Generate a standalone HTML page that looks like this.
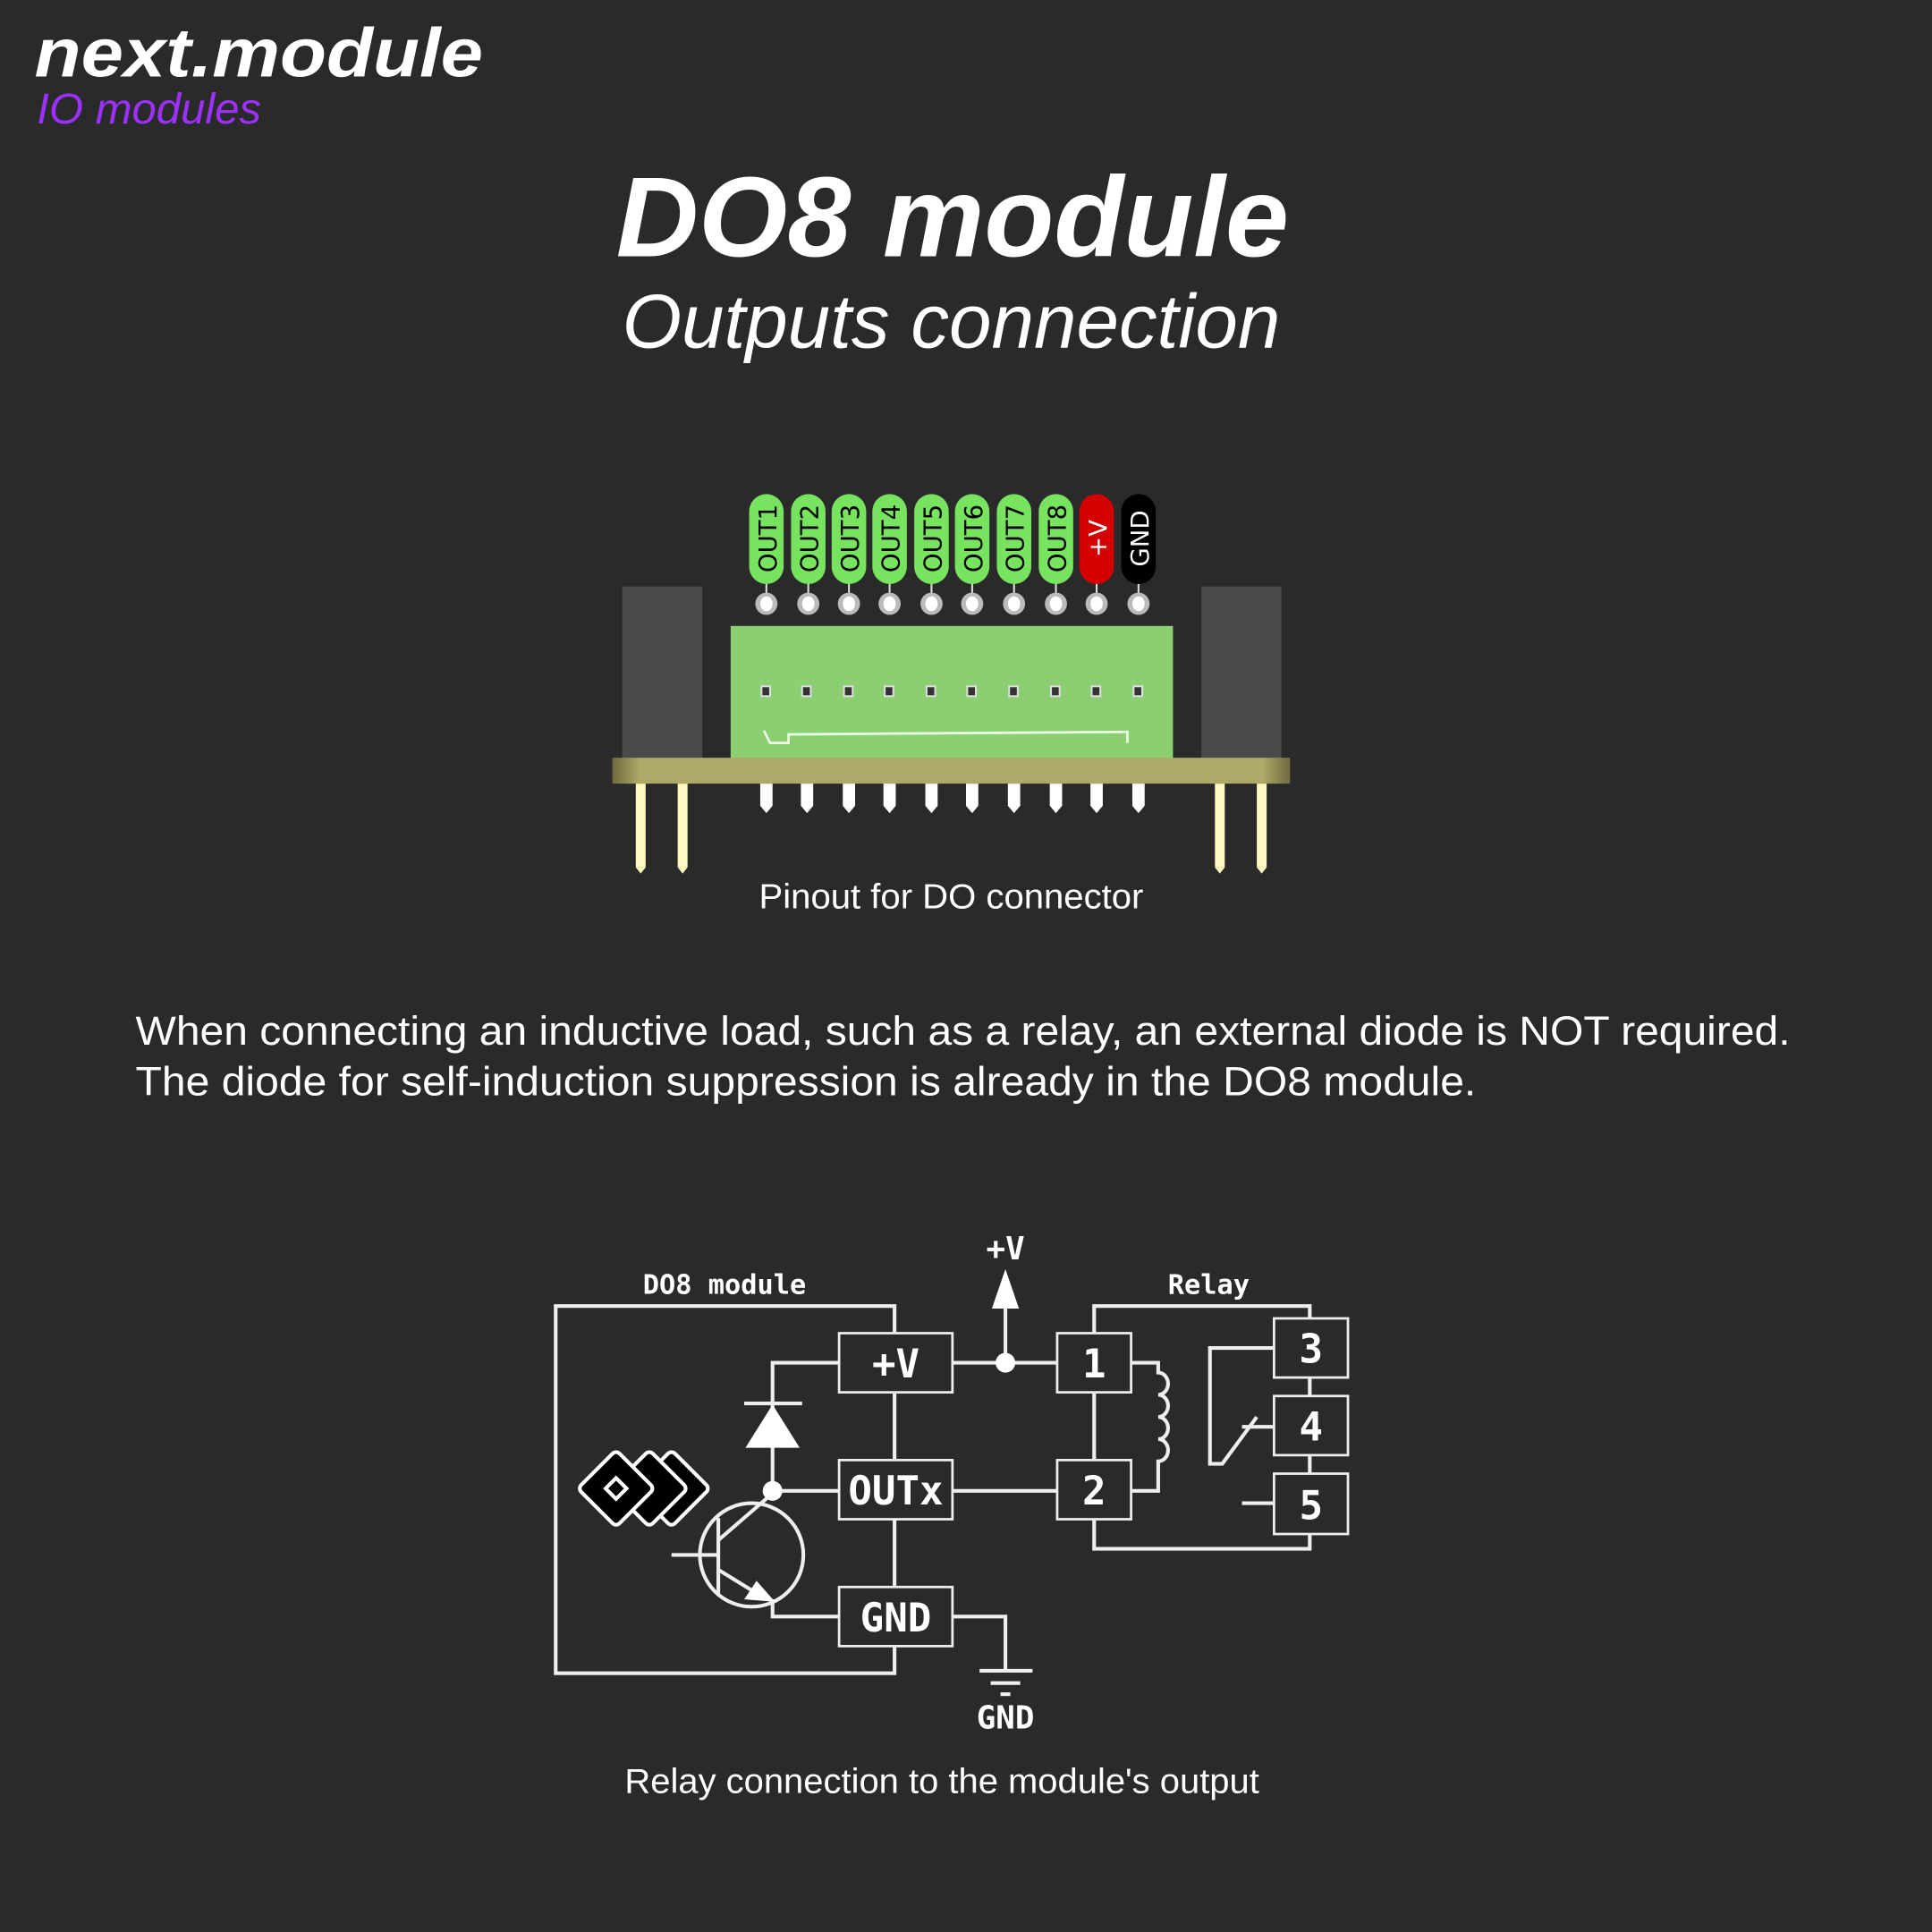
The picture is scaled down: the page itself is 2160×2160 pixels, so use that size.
<!DOCTYPE html>
<html><head><style>html,body{margin:0;padding:0;background:#2a2a2a;}svg{display:block}</style></head>
<body>
<svg width="2160" height="2160" viewBox="0 0 1568 1568" xmlns="http://www.w3.org/2000/svg">
<defs>
<linearGradient id="pcb" x1="0" x2="1" y1="0" y2="0">
<stop offset="0" stop-color="#6e6a3e"/><stop offset="0.04" stop-color="#aea968"/><stop offset="0.96" stop-color="#aea968"/><stop offset="1" stop-color="#6e6a3e"/>
</linearGradient>
</defs>
<rect width="1568" height="1568" fill="#2a2a2a"/>
<g font-family="Liberation Sans, sans-serif">
<text x="28" y="62" font-size="56" font-weight="bold" font-style="italic" fill="#fff" textLength="364" lengthAdjust="spacingAndGlyphs">next.module</text>
<text x="30" y="100" font-size="35" font-style="italic" fill="#9b30ff" textLength="182" lengthAdjust="spacingAndGlyphs">IO modules</text>
<text x="500" y="208" font-size="92" font-weight="bold" font-style="italic" fill="#fff" textLength="546" lengthAdjust="spacingAndGlyphs">DO8 module</text>
<text x="772" y="282" font-size="62" font-style="italic" fill="#fff" text-anchor="middle">Outputs connection</text>
</g>
<rect x="505" y="476" width="65" height="140" fill="#4a4a4a"/>
<rect x="975" y="476" width="65" height="140" fill="#4a4a4a"/>
<rect x="593" y="508" width="359" height="108" fill="#8ccf72"/>
<path d="M620 593 L625 603 L640 603 L640 596 L915 594 L915 603" stroke="#e8ffe0" stroke-width="2" fill="none"/>
<g fill="#333" stroke="#ddd" stroke-width="1.5">
<rect x="618" y="557" width="7" height="8"/><rect x="651" y="557" width="7" height="8"/><rect x="685" y="557" width="7" height="8"/><rect x="718" y="557" width="7" height="8"/><rect x="752" y="557" width="7" height="8"/><rect x="785" y="557" width="7" height="8"/><rect x="819" y="557" width="7" height="8"/><rect x="853" y="557" width="7" height="8"/><rect x="886" y="557" width="7" height="8"/><rect x="920" y="557" width="7" height="8"/>
</g>
<rect x="497" y="615" width="550" height="21" fill="url(#pcb)"/>
<g fill="#fff8c0">
<rect x="516" y="636" width="8" height="68"/><path d="M516 704 L520 709 L524 704Z"/>
<rect x="550" y="636" width="8" height="68"/><path d="M550 704 L554 709 L558 704Z"/>
<rect x="986" y="636" width="8" height="68"/><path d="M986 704 L990 709 L994 704Z"/>
<rect x="1020" y="636" width="8" height="68"/><path d="M1020 704 L1024 709 L1028 704Z"/>
</g>
<g fill="#fff">
<path d="M617 636h10v18l-5 6l-5-6z"/><path d="M650 636h10v18l-5 6l-5-6z"/><path d="M684 636h10v18l-5 6l-5-6z"/><path d="M717 636h10v18l-5 6l-5-6z"/><path d="M751 636h10v18l-5 6l-5-6z"/><path d="M784 636h10v18l-5 6l-5-6z"/><path d="M818 636h10v18l-5 6l-5-6z"/><path d="M852 636h10v18l-5 6l-5-6z"/><path d="M885 636h10v18l-5 6l-5-6z"/><path d="M919 636h10v18l-5 6l-5-6z"/>
</g>
<g font-family="DejaVu Sans, sans-serif" font-size="20">
<g stroke="#ddd" stroke-width="1.5">
<line x1="622" y1="473" x2="622" y2="490"/><line x1="656" y1="473" x2="656" y2="490"/><line x1="689" y1="473" x2="689" y2="490"/><line x1="722" y1="473" x2="722" y2="490"/><line x1="756" y1="473" x2="756" y2="490"/><line x1="789" y1="473" x2="789" y2="490"/><line x1="823" y1="473" x2="823" y2="490"/><line x1="857" y1="473" x2="857" y2="490"/><line x1="890" y1="473" x2="890" y2="490"/><line x1="924" y1="473" x2="924" y2="490"/>
</g>
<g fill="#bbb"><circle cx="622" cy="490" r="9"/><circle cx="656" cy="490" r="9"/><circle cx="689" cy="490" r="9"/><circle cx="722" cy="490" r="9"/><circle cx="756" cy="490" r="9"/><circle cx="789" cy="490" r="9"/><circle cx="823" cy="490" r="9"/><circle cx="857" cy="490" r="9"/><circle cx="890" cy="490" r="9"/><circle cx="924" cy="490" r="9"/></g>
<g fill="#fff"><ellipse cx="622" cy="490" rx="5" ry="6"/><ellipse cx="656" cy="490" rx="5" ry="6"/><ellipse cx="689" cy="490" rx="5" ry="6"/><ellipse cx="722" cy="490" rx="5" ry="6"/><ellipse cx="756" cy="490" rx="5" ry="6"/><ellipse cx="789" cy="490" rx="5" ry="6"/><ellipse cx="823" cy="490" rx="5" ry="6"/><ellipse cx="857" cy="490" rx="5" ry="6"/><ellipse cx="890" cy="490" rx="5" ry="6"/><ellipse cx="924" cy="490" rx="5" ry="6"/></g>
<g fill="#77e35f">
<rect x="608" y="401" width="28" height="73" rx="14"/><rect x="642" y="401" width="28" height="73" rx="14"/><rect x="675" y="401" width="28" height="73" rx="14"/><rect x="708" y="401" width="28" height="73" rx="14"/><rect x="742" y="401" width="28" height="73" rx="14"/><rect x="775" y="401" width="28" height="73" rx="14"/><rect x="809" y="401" width="28" height="73" rx="14"/><rect x="843" y="401" width="28" height="73" rx="14"/>
</g>
<rect x="876" y="401" width="28" height="73" rx="14" fill="#d40000"/>
<rect x="910" y="401" width="28" height="73" rx="14" fill="#000"/>
<g fill="#000">
<text transform="translate(630,437) rotate(-90)" text-anchor="middle">OUT1</text>
<text transform="translate(664,437) rotate(-90)" text-anchor="middle">OUT2</text>
<text transform="translate(697,437) rotate(-90)" text-anchor="middle">OUT3</text>
<text transform="translate(730,437) rotate(-90)" text-anchor="middle">OUT4</text>
<text transform="translate(764,437) rotate(-90)" text-anchor="middle">OUT5</text>
<text transform="translate(797,437) rotate(-90)" text-anchor="middle">OUT6</text>
<text transform="translate(831,437) rotate(-90)" text-anchor="middle">OUT7</text>
<text transform="translate(865,437) rotate(-90)" text-anchor="middle">OUT8</text>
</g>
<text transform="translate(898,437) rotate(-90)" text-anchor="middle" fill="#fff">+V</text>
<text transform="translate(932,437) rotate(-90)" text-anchor="middle" fill="#fff">GND</text>
</g>
<g font-family="Liberation Sans, sans-serif" fill="#fff">
<text x="616" y="737" font-size="28" textLength="312" lengthAdjust="spacingAndGlyphs">Pinout for DO connector</text>
<text x="110" y="848" font-size="33" textLength="1343" lengthAdjust="spacingAndGlyphs">When connecting an inductive load, such as a relay, an external diode is NOT required.</text>
<text x="110" y="889" font-size="33" textLength="1088" lengthAdjust="spacingAndGlyphs">The diode for self-induction suppression is already in the DO8 module.</text>
<text x="507" y="1455" font-size="28" textLength="515" lengthAdjust="spacingAndGlyphs">Relay connection to the module's output</text>
</g>
<g stroke="#eee" stroke-width="3" fill="none">
<path d="M726 1082 V1060 H451 V1358 H726 V1336"/>
<line x1="726" y1="1130" x2="726" y2="1185"/><line x1="726" y1="1233" x2="726" y2="1288"/>
<line x1="773" y1="1106" x2="858" y2="1106"/>
<line x1="816" y1="1106" x2="816" y2="1050"/>
<line x1="773" y1="1210" x2="858" y2="1210"/>
<path d="M773 1312 H816 V1356"/>
<line x1="795" y1="1356" x2="838" y2="1356"/><line x1="804" y1="1366" x2="828" y2="1366"/><line x1="812" y1="1375" x2="820" y2="1375"/>
<path d="M681 1106 H627 V1210 H681"/>
<line x1="604" y1="1139" x2="651" y2="1139"/>
<circle cx="610" cy="1262" r="42"/>
<line x1="545" y1="1262" x2="583" y2="1262"/>
<line x1="583" y1="1232" x2="583" y2="1295"/>
<line x1="583" y1="1250" x2="627" y2="1212"/>
<path d="M583 1274 L622 1298 M627 1298 V1312 H681"/>
<path d="M888 1082 V1060 H1063 V1070 M888 1130 V1185 M888 1233 V1257 H1063 V1245 M1063 1118 V1133 M1063 1181 V1196"/>
<path d="M918 1106 H940 V1114 a8 9 0 0 1 0 18 a8 9 0 0 1 0 18 a8 9 0 0 1 0 18 a8 9 0 0 1 0 18 V1210 H918"/>
<path d="M1034 1094 H982 V1188 H992 L1020 1150 M1008 1158 H1034 M1008 1220 H1034"/>
</g>
<path d="M627 1140 L605 1175 L649 1175Z" fill="#fff"/>
<path d="M816 1030 L805 1062 L827 1062Z" fill="#fff"/>
<path d="M629 1300 L614 1283 L604 1298Z" fill="#fff"/>
<circle cx="816" cy="1106" r="8" fill="#fff"/>
<circle cx="627" cy="1210" r="8" fill="#fff"/>
<g fill="#2a2a2a" stroke="#eee" stroke-width="2">
<rect x="681" y="1082" width="92" height="48"/><rect x="681" y="1185" width="92" height="48"/><rect x="681" y="1288" width="92" height="48"/>
<rect x="858" y="1082" width="60" height="48"/><rect x="858" y="1185" width="60" height="48"/>
<rect x="1034" y="1070" width="60" height="48"/><rect x="1034" y="1133" width="60" height="48"/><rect x="1034" y="1196" width="60" height="49"/>
</g>
<g stroke="#fff" stroke-width="3" fill="#000">
<rect x="-22" y="-22" width="44" height="44" rx="4" transform="translate(545,1208) rotate(45)"/>
<rect x="-22" y="-22" width="44" height="44" rx="4" transform="translate(527,1208) rotate(45)"/>
<rect x="-22" y="-22" width="44" height="44" rx="4" transform="translate(500,1208) rotate(45)"/>
<rect x="-6" y="-6" width="12" height="12" transform="translate(500,1208) rotate(45)"/>
</g>
<g font-family="DejaVu Sans Mono, monospace" font-weight="bold" fill="#fff" text-anchor="middle">
<text x="588" y="1050" font-size="22">DO8 module</text>
<text x="981" y="1050" font-size="22">Relay</text>
<text x="816" y="1022" font-size="26">+V</text>
<text x="816" y="1403" font-size="26">GND</text>
<text x="727" y="1118" font-size="32">+V</text>
<text x="727" y="1221" font-size="32">OUTx</text>
<text x="727" y="1324" font-size="32">GND</text>
<text x="888" y="1118" font-size="32">1</text>
<text x="888" y="1221" font-size="32">2</text>
<text x="1064" y="1106" font-size="32">3</text>
<text x="1064" y="1169" font-size="32">4</text>
<text x="1064" y="1233" font-size="32">5</text>
</g>
</svg>
</body></html>
